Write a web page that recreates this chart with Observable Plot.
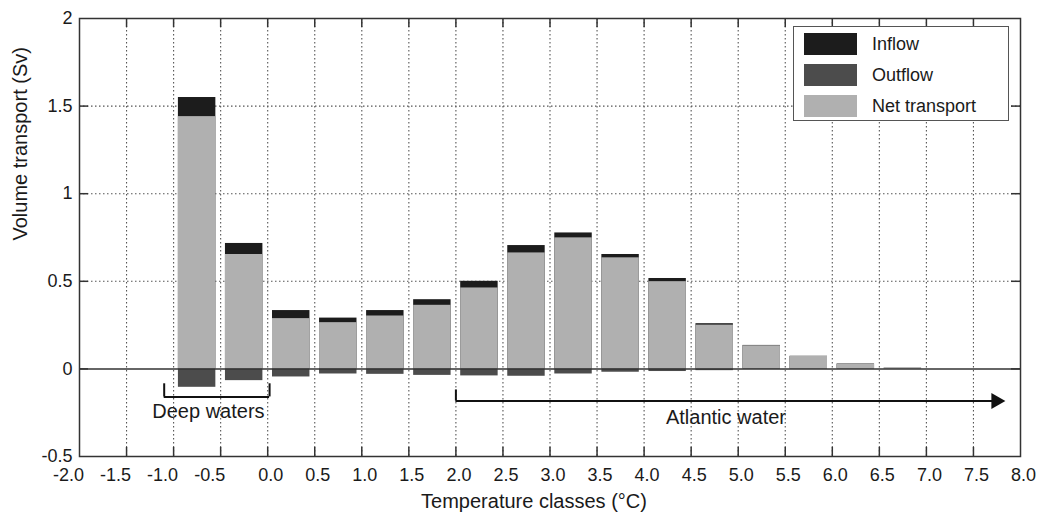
<!DOCTYPE html>
<html>
<head>
<meta charset="utf-8">
<script src="https://cdn.jsdelivr.net/npm/d3@7"></script>
<script src="https://cdn.jsdelivr.net/npm/@observablehq/plot@0.6"></script>
<style>
  body { margin: 0; background: white; }
  #wrap { position: relative; width: 1037px; height: 518px; font-family: "Liberation Sans", Arial, sans-serif; }
  #legend { position: absolute; left: 793px; top: 26px; width: 216px; height: 95px; border: 1.5px solid #555; background: white; box-sizing: border-box; }
  .item { position: absolute; left: 10px; height: 22px; display: flex; align-items: center; }
  .sw { width: 53px; height: 22px; }
  .lab { margin-left: 15px; font-size: 18px; color: #1a1a1a; }
</style>
</head>
<body>
<div id="wrap"></div>
<script>
// ---- data ----
const classLower = [-1.0, -0.5, 0.0, 0.5, 1.0, 1.5, 2.0, 2.5, 3.0, 3.5, 4.0, 4.5, 5.0, 5.5, 6.0, 6.5];
const inflow  = [1.549, 0.716, 0.333, 0.290, 0.333, 0.395, 0.500, 0.704, 0.776, 0.653, 0.516, 0.258, 0.134, 0.072, 0.028, 0.004];
const net     = [1.440, 0.653, 0.287, 0.264, 0.302, 0.363, 0.462, 0.662, 0.748, 0.634, 0.498, 0.250, 0.132, 0.071, 0.027, 0.004];
const outflow = [-0.105, -0.067, -0.046, -0.029, -0.031, -0.037, -0.040, -0.042, -0.029, -0.019, -0.015, -0.010, -0.003, -0.001, -0.001, 0];
const classWidth = 0.5;

const xTicks = [-2.0, -1.5, -1.0, -0.5, 0.0, 0.5, 1.0, 1.5, 2.0, 2.5, 3.0, 3.5, 4.0, 4.5, 5.0, 5.5, 6.0, 6.5, 7.0, 7.5, 8.0];
const yTicks = [-0.5, 0, 0.5, 1, 1.5, 2];
const seriesNames = ["Inflow", "Outflow", "Net transport"];
const seriesColors = ["#1c1c1c", "#4c4c4c", "#b0b0b0"];

// annotations (data coordinates)
const deepX = [-1.1, 0.02];
const deepY = [-0.16, -0.085];
const deepLabel = {x: -0.63, y: -0.245, text: "Deep waters"};
const atlX = [2.0, 7.8];
const atlY = [-0.183, -0.12];
const atlLabel = {x: 4.87, y: -0.28, text: "Atlantic water"};

// ---- build table ----
const rows = classLower.map((c, i) => ({x1: c, x2: c + classWidth, inflow: inflow[i], outflow: outflow[i], net: net[i]}));
const gridXs = xTicks.slice(1, -1);
const gridYs = yTicks.slice(1, -1).filter(d => d !== 0);

const gridStyle = {stroke: "#555", strokeWidth: 1.1, strokeDasharray: "1.5,2.5"};
const fh = 518 - 18 - 62, fw = 1037 - 79 - 17, tk = 9;
const ink = "#1a1a1a";

const chart = Plot.plot({
  width: 1037,
  height: 518,
  marginLeft: 79,
  marginRight: 17,
  marginTop: 18,
  marginBottom: 62,
  x: {domain: [-2, 8]},
  y: {domain: [-0.5, 2]},
  style: {fontFamily: "'Liberation Sans', Arial, sans-serif", fontSize: "18px", color: ink, background: "white"},
  marks: [
    Plot.ruleX(gridXs, gridStyle),
    Plot.ruleY(gridYs, gridStyle),
    Plot.rectY(rows, {x1: "x1", x2: "x2", y1: 0, y2: "inflow", fill: seriesColors[0], insetLeft: 4.8, insetRight: 4.8}),
    Plot.rectY(rows, {x1: "x1", x2: "x2", y1: 0, y2: "outflow", fill: seriesColors[1], insetLeft: 4.8, insetRight: 4.8}),
    Plot.rectY(rows, {x1: "x1", x2: "x2", y1: 0, y2: "net", fill: seriesColors[2], insetLeft: 4.8, insetRight: 4.8}),
    Plot.ruleY([0], {stroke: "#333", strokeWidth: 1.5}),
    // inward frame ticks
    Plot.tickX(gridXs, {stroke: "#333", strokeWidth: 1.5, insetTop: fh - tk}),
    Plot.tickX(gridXs, {stroke: "#333", strokeWidth: 1.5, insetBottom: fh - tk}),
    Plot.tickY(gridYs.concat([0]), {stroke: "#333", strokeWidth: 1.5, insetRight: fw - tk}),
    Plot.tickY(gridYs.concat([0]), {stroke: "#333", strokeWidth: 1.5, insetLeft: fw - tk}),
    Plot.frame({stroke: "#333", strokeWidth: 1.5}),
    // axes (labels only)
    Plot.axisX(xTicks.filter(d => d < 0), {tickSize: 0, tickPadding: 12, tickFormat: d => d.toFixed(1), dx: -11, label: null, fontSize: 18, fill: ink}),
    Plot.axisX(xTicks.filter(d => d >= 0), {tickSize: 0, tickPadding: 12, tickFormat: d => d.toFixed(1), dx: 3, label: null, fontSize: 18, fill: ink}),
    Plot.axisY(yTicks, {tickSize: 0, tickPadding: 7, tickFormat: d => String(d), label: null, fontSize: 18, fill: ink}),
    // axis titles
    Plot.text(["Temperature classes (°C)"], {frameAnchor: "bottom", dx: -16, dy: 51, fontSize: 20, fill: ink}),
    Plot.text(["Volume transport (Sv)"], {frameAnchor: "left", rotate: -90, dx: -59, dy: 3, fontSize: 20, fill: ink}),
    // Deep waters bracket
    Plot.ruleY([deepY[0]], {x1: deepX[0], x2: deepX[1], stroke: "#111", strokeWidth: 2}),
    Plot.ruleX(deepX, {y1: deepY[0], y2: deepY[1], stroke: "#111", strokeWidth: 2}),
    Plot.text([deepLabel], {x: "x", y: "y", text: "text", fontSize: 20, fill: ink}),
    // Atlantic water arrow
    Plot.ruleX([atlX[0]], {y1: atlY[0], y2: atlY[1], stroke: "#111", strokeWidth: 2}),
    Plot.ruleY([atlY[0]], {x1: atlX[0], x2: atlX[1] - 0.06, stroke: "#111", strokeWidth: 2}),
    Plot.dot([{x: atlX[1] - 0.06, y: atlY[0]}], {x: "x", y: "y", symbol: "triangle", rotate: 90, r: 6, fill: "#111", stroke: "none"}),
    Plot.text([atlLabel], {x: "x", y: "y", text: "text", fontSize: 20, fill: ink})
  ]
});

const wrap = document.getElementById("wrap");
wrap.appendChild(chart);

// legend
const legend = document.createElement("div");
legend.id = "legend";
const tops = [6, 37, 68];
seriesNames.forEach((name, i) => {
  const it = document.createElement("div");
  it.className = "item";
  it.style.top = tops[i] + "px";
  const sw = document.createElement("div");
  sw.className = "sw";
  sw.style.background = seriesColors[i];
  const lb = document.createElement("span");
  lb.className = "lab";
  lb.textContent = name;
  it.appendChild(sw);
  it.appendChild(lb);
  legend.appendChild(it);
});
wrap.appendChild(legend);
</script>
</body>
</html>
